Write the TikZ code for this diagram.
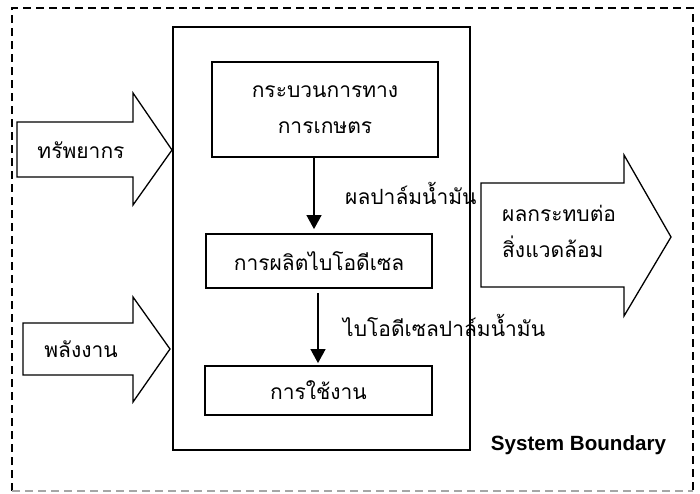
\documentclass[tikz,border=0pt]{standalone}
\usepackage{fontspec}
\newfontfamily\thaifont[Script=Thai]{Loma}
\newfontfamily\sbfont{Liberation Sans}
\usetikzlibrary{arrows.meta,calc}
\begin{document}
\begin{tikzpicture}[x=1pt,y=-1pt,
  th/.style={font=\thaifont\fontsize{21}{36}\selectfont, inner sep=0pt},
  boxn/.style={draw, line width=1.8pt, inner sep=0pt, th},
  blk/.style={draw, line width=1.3pt, line join=miter},
  bnd/.style={line width=1.3pt, dash pattern=on 8pt off 5pt},
  arr/.style={line width=1.2pt, -{Triangle[width=15pt,length=14pt]}}]
\useasboundingbox (0,0) rectangle (700,493);
\draw[bnd] (12,491) -- (12,8) -- (693,8) -- (693,491);
\draw[bnd, gray!70] (12,491) -- (693,491);
\draw[line width=1.8pt] (173,27) rectangle (470,450);
\node[boxn, minimum width=226pt, minimum height=95pt, align=center] (b1) at (325,109.5) {กระบวนการทาง\\การเกษตร};
\node[boxn, minimum width=226pt, minimum height=54pt] (b2) at (319,261) {การผลิตไบโอดีเซล};
\node[boxn, minimum width=227pt, minimum height=49pt] (b3) at (318.5,390.5) {การใช้งาน};
\coordinate (a1) at (314,0);
\coordinate (a2) at (318,0);
\draw[arr, shorten >=4pt] (b1.south -| a1) -- (b2.north -| a1);
\draw[arr, shorten <=4pt, shorten >=2pt] (b2.south -| a2) -- (b3.north -| a2);
\node[th, anchor=west] (l1) at (345,193) {ผลปาล์มน้ำมัน};
\node[th, anchor=west] (l2) at (343,325) {ไบโอดีเซลปาล์มน้ำมัน};
\draw[blk] (17,122) -- (133,122) -- (133,93) -- (172,150) -- (133,205) -- (133,177) -- (17,177) -- cycle;
\node[th] (t1) at (81,150) {ทรัพยากร};
\draw[blk] (23,323) -- (133,323) -- (133,297) -- (170,349) -- (133,402) -- (133,375) -- (23,375) -- cycle;
\node[th] (t2) at (81,349) {พลังงาน};
\draw[blk] (481,183) -- (624,183) -- (624,155) -- (671,237) -- (624,316) -- (624,287) -- (481,287) -- cycle;
\node[th, anchor=west, align=left] (t3) at (502,231) {ผลกระทบต่อ\\สิ่งแวดล้อม};
\node[font=\sbfont\bfseries\fontsize{20.6}{24}\selectfont, inner sep=0pt] (sb) at (578.5,445) {System Boundary};
\end{tikzpicture}
\end{document}
